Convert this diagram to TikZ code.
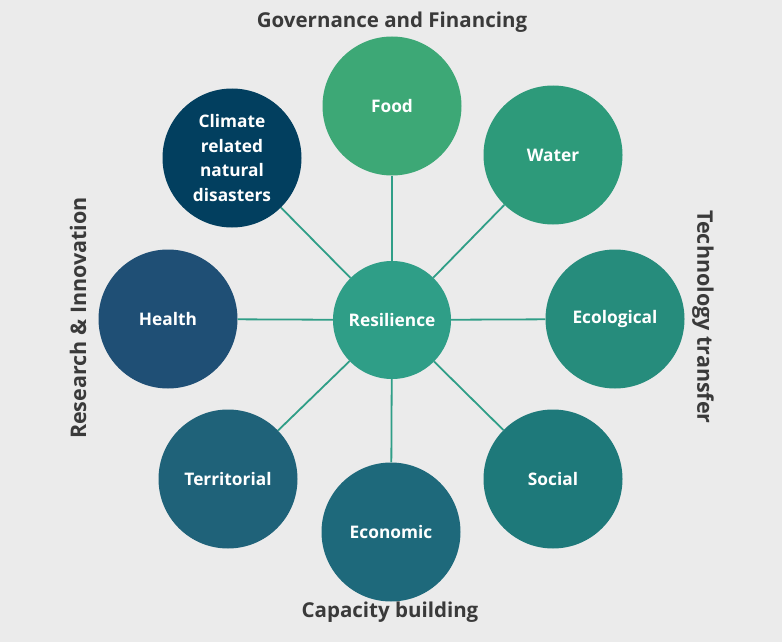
\documentclass[tikz,border=0pt]{standalone}
\usepackage{fontspec}
\setmainfont{Open Sans}
\definecolor{bg}{HTML}{EBEBEB}
\definecolor{txt}{HTML}{3A3A3A}
\definecolor{cfood}{HTML}{3DA876}
\definecolor{cwater}{HTML}{2D9A7A}
\definecolor{ceco}{HTML}{268C7C}
\definecolor{csoc}{HTML}{1E797A}
\definecolor{cecon}{HTML}{1E697B}
\definecolor{cterr}{HTML}{1F6279}
\definecolor{cheal}{HTML}{1F4F75}
\definecolor{cclim}{HTML}{023F5F}
\definecolor{cres}{HTML}{2F9E87}
\definecolor{cline}{HTML}{2F9E87}
\begin{document}
\begin{tikzpicture}[x=1pt,y=-1pt,
  outer/.style={circle,minimum size=139pt,inner sep=0pt,text=white,font=\bfseries\fontsize{17.3}{24.5}\selectfont,align=center},
  centre/.style={circle,minimum size=118pt,inner sep=0pt,fill=cres,text=white,font=\bfseries\fontsize{17.3}{24}\selectfont},
  side/.style={text=txt,font=\bfseries\fontsize{20.5}{24}\selectfont},
  link/.style={draw=cline,line width=1.8pt}]
\fill[bg] (0,0) rectangle (782,642);
\useasboundingbox (0,0) rectangle (782,642);
\node[centre] (res) at (392,320) {Resilience};
\node[outer,fill=cfood] (food) at (392,106) {Food};
\node[outer,fill=cwater] (water) at (553,155) {Water};
\node[outer,fill=ceco] (eco) at (615,319) {Ecological};
\node[outer,fill=csoc] (soc) at (553,479) {Social};
\node[outer,fill=cecon] (econ) at (391,532) {Economic};
\node[outer,fill=cterr] (terr) at (228,479) {Territorial};
\node[outer,fill=cheal] (heal) at (168,319) {Health};
\node[outer,fill=cclim] (clim) at (232,158) {Climate\\related\\natural\\disasters};
\foreach \n in {food,water,eco,soc,econ,terr,heal,clim}
  \draw[link] (res) -- (\n);
\node[side] (gov) at (392,22) {Governance and Financing};
\node[side] (cap) at (390,612) {Capacity building};
\node[side,rotate=-90,font=\bfseries\fontsize{21.5}{24}\selectfont] (tech) at (703,317) {Technology transfer};
\node[side,rotate=90,font=\bfseries\fontsize{21.5}{24}\selectfont] (rinn) at (78,318) {Research \& Innovation};
\end{tikzpicture}
\end{document}
